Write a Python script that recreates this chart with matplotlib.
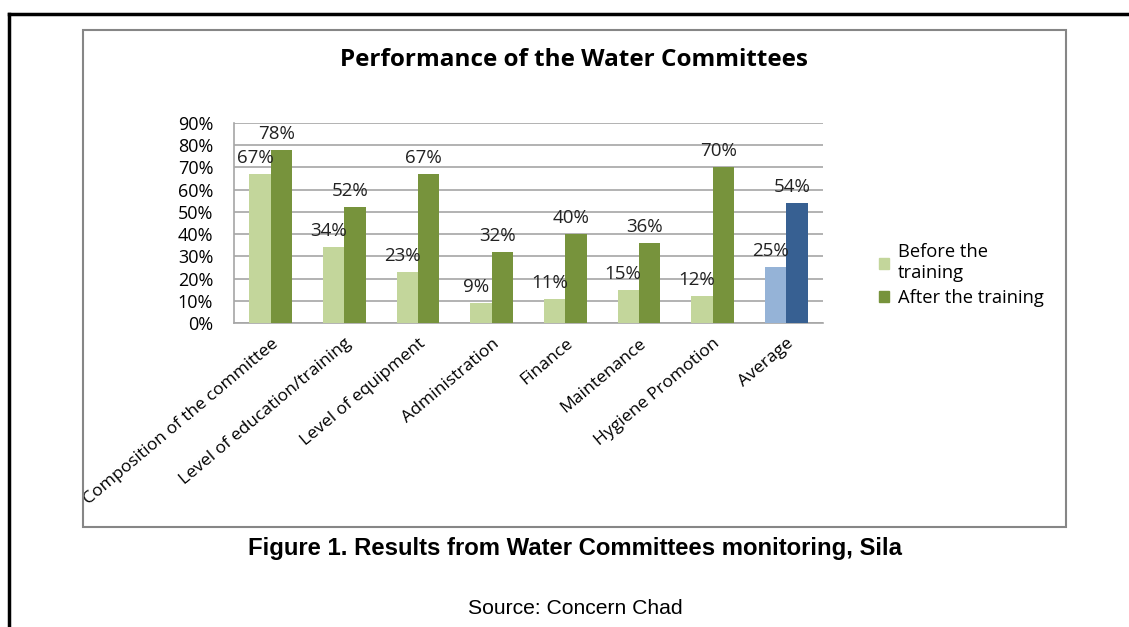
import matplotlib.pyplot as plt
from matplotlib.patches import Rectangle
from matplotlib.lines import Line2D
import numpy as np

categories = ["Composition of the committee", "Level of education/training", "Level of equipment",
              "Administration", "Finance", "Maintenance", "Hygiene Promotion", "Average"]
before = [0.67, 0.34, 0.23, 0.09, 0.11, 0.15, 0.12, 0.25]
after = [0.78, 0.52, 0.67, 0.32, 0.40, 0.36, 0.70, 0.54]
series_names = ["Before the\ntraining", "After the training"]

before_colors = ["#C3D69B"] * 7 + ["#95B3D7"]
after_colors = ["#77933C"] * 7 + ["#376092"]

W, H = 1129, 627
fig = plt.figure(figsize=(W / 100, H / 100), dpi=100)
plt.rcParams['font.family'] = ['Open Sans', 'DejaVu Sans']

# page border (top and left only) and chart frame
fig.add_artist(Line2D([9 / W, 1], [1 - 14 / H, 1 - 14 / H], color="black", lw=2.5))
fig.add_artist(Line2D([9 / W, 9 / W], [1 - 14 / H, 0], color="black", lw=2.5))
fig.add_artist(Rectangle((83 / W, 1 - 527 / H), (1066 - 83) / W, (527 - 30) / H,
                         fill=False, edgecolor="#868686", lw=1.5))

ax = fig.add_axes([234 / W, 1 - 323 / H, (823 - 234) / W, (323 - 123) / H])
x = np.arange(len(categories))
bw = 0.29
b1 = ax.bar(x - bw / 2, before, bw, color=before_colors, label=series_names[0], zorder=3)
b2 = ax.bar(x + bw / 2, after, bw, color=after_colors, label=series_names[1], zorder=3)

for bars in (b1, b2):
    for r in bars:
        ax.annotate(f"{r.get_height() * 100:.0f}%", (r.get_x() + r.get_width() / 2 - 0.07, r.get_height()),
                    xytext=(0, 5), textcoords="offset points", ha="center", va="bottom",
                    fontsize=13.5, color="#222222")

ax.set_xlim(-0.5, len(categories) - 0.5)
ax.set_ylim(0, 0.9)
ax.set_yticks(np.arange(0, 0.91, 0.1))
ax.set_yticklabels([f"{v}%" for v in range(0, 91, 10)], fontsize=13)
ax.yaxis.grid(True, color="#A6A6A6", lw=1.2, zorder=0)
ax.tick_params(axis="y", length=0, pad=15)
ax.tick_params(axis="x", length=0, pad=9)
ax.set_xticks(x)
ax.set_xticklabels(categories, rotation=40, ha="right", rotation_mode="anchor", fontsize=12.6)
for s in ["top", "right"]:
    ax.spines[s].set_visible(False)
ax.spines["left"].set_color("#A6A6A6")
ax.spines["bottom"].set_color("#A6A6A6")
ax.spines["left"].set_linewidth(1.2)
ax.spines["bottom"].set_linewidth(1.2)

ax.legend(handles=[Rectangle((0, 0), 1, 1, color="#C3D69B"), Rectangle((0, 0), 1, 1, color="#77933C")],
          labels=series_names, loc="upper left", bbox_to_anchor=(872 / W, 1 - 236 / H),
          bbox_transform=fig.transFigure, frameon=False, fontsize=13.2,
          handlelength=0.55, handleheight=0.55, handletextpad=0.45, borderaxespad=0, labelspacing=0.35)

fig.text(574 / W, 1 - 60 / H, "Performance of the Water Committees", ha="center", va="center",
         fontsize=17.5, fontweight="bold")
fig.text(575 / W, 1 - 549 / H, "Figure 1. Results from Water Committees monitoring, Sila",
         ha="center", va="center", fontsize=17.2, fontweight="bold", family="Liberation Sans")
fig.text(575 / W, 1 - 609 / H, "Source: Concern Chad", ha="center", va="center",
         fontsize=15.2, family="Liberation Sans")

fig.savefig("out.png", dpi=100)
